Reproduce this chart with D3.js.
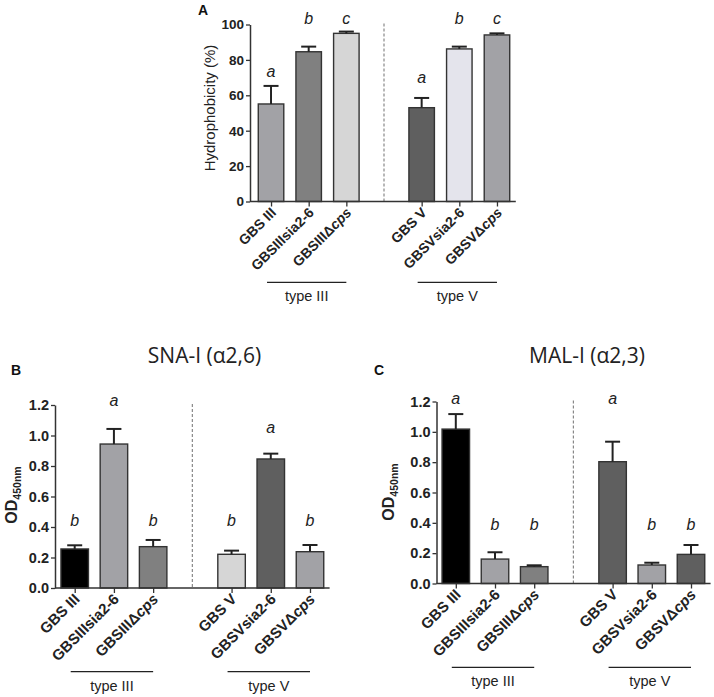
<!DOCTYPE html>
<html>
<head>
<meta charset="utf-8">
<script src="https://cdn.jsdelivr.net/npm/d3@7"></script>
<style>
  html, body { margin: 0; padding: 0; background: #fff; }
  svg { display: block; font-family: "Liberation Sans", Arial, sans-serif; }
</style>
</head>
<body>
<svg id="chart" width="714" height="697"></svg>
<script>
// ---------------- DATA ----------------
const strains = ["GBS III", "GBSIIIsia2-6", "GBSIIIΔcps", "GBS V", "GBSVsia2-6", "GBSVΔcps"];
const groups = ["type III", "type V"];
const groupMembers = [["GBS III", "GBSIIIΔcps"], ["GBS V", "GBSVΔcps"]];

// Panel A: hydrophobicity (%)
const hydroMean = [55.1, 84.6, 95.0, 53.0, 86.2, 94.1];
const hydroErr  = [10.2, 2.9, 1.0, 5.5, 1.3, 0.9];
const hydroLetters = ["a", "b", "c", "a", "b", "c"];
const hydroLetterY = [73.7, 103.7, 103.7, 70.3, 103.7, 103.7];
const hydroTicks = [0, 20, 40, 60, 80, 100];

// Panel B: SNA-I (α2,6)
const snaMean = [0.256, 0.944, 0.271, 0.221, 0.846, 0.238];
const snaErr  = [0.024, 0.099, 0.044, 0.024, 0.035, 0.044];
const snaLetters = ["b", "a", "b", "b", "a", "b"];
const snaLetterY = [0.446, 1.228, 0.446, 0.446, 1.054, 0.446];

// Panel C: MAL-I (α2,3)
const malMean = [1.018, 0.161, 0.111, 0.803, 0.122, 0.192];
const malErr  = [0.099, 0.045, 0.009, 0.132, 0.015, 0.062];
const malLetters = ["a", "b", "b", "a", "b", "b"];
const malLetterY = [1.22, 0.392, 0.392, 1.22, 0.392, 0.392];
const odTicks = [0, 0.2, 0.4, 0.6, 0.8, 1.0, 1.2];

// ---------------- STYLE ----------------
const fillA = ["#a2a2a6", "#808080", "#d6d6d6", "#5f5f5f", "#e4e4ec", "#a2a2a6"];
const fillB = ["#000000", "#a2a2a6", "#808080", "#d6d6d6", "#5f5f5f", "#a2a2a6"];
const fillC = ["#000000", "#a2a2a6", "#808080", "#5f5f5f", "#a2a2a6", "#5f5f5f"];

const svg = d3.select("#chart");
const slots = [strains[0], strains[1], strains[2], "__gap__", strains[3], strains[4], strains[5]];

function drawPanel(cfg) {
  const g = svg.append("g");
  const x = d3.scalePoint().domain(slots).range(cfg.xRange).padding(0.5);
  const y = d3.scaleLinear().domain(cfg.yDomain).range(cfg.yRange);
  const y0 = y(0);

  // dashed separator
  g.append("line")
    .attr("x1", x("__gap__")).attr("x2", x("__gap__"))
    .attr("y1", y(cfg.yDomain[1]) - 1).attr("y2", y0)
    .attr("stroke", "#888").attr("stroke-width", 1.2)
    .attr("stroke-dasharray", "3,2");

  const data = strains.map((s, i) => ({
    s, m: cfg.mean[i], e: cfg.err[i], l: cfg.letters[i], ly: cfg.letterY[i], f: cfg.fill[i]
  }));

  // bars
  g.selectAll("rect.bar").data(data).join("rect")
    .attr("x", d => x(d.s) - cfg.bw / 2)
    .attr("width", cfg.bw)
    .attr("y", d => y(d.m))
    .attr("height", d => y0 - y(d.m))
    .attr("fill", d => d.f)
    .attr("stroke", "#333").attr("stroke-width", 1.4);

  // error bars (upper only)
  g.selectAll("line.err").data(data).join("line")
    .attr("x1", d => x(d.s)).attr("x2", d => x(d.s))
    .attr("y1", d => y(d.m)).attr("y2", d => y(d.m + d.e))
    .attr("stroke", "#222").attr("stroke-width", 2);
  g.selectAll("line.cap").data(data).join("line")
    .attr("x1", d => x(d.s) - 7.5).attr("x2", d => x(d.s) + 7.5)
    .attr("y1", d => y(d.m + d.e)).attr("y2", d => y(d.m + d.e))
    .attr("stroke", "#222").attr("stroke-width", 2);

  // significance letters
  g.selectAll("text.letter").data(data).join("text")
    .attr("x", d => x(d.s)).attr("y", d => y(d.ly))
    .attr("dy", "0.35em")
    .attr("text-anchor", "middle")
    .attr("font-style", "italic")
    .attr("font-size", 16)
    .attr("fill", "#222")
    .text(d => d.l);

  // y axis
  const yAxis = d3.axisLeft(y).tickValues(cfg.ticks).tickFormat(cfg.fmt).tickSize(4).tickSizeOuter(0);
  const ya = g.append("g").attr("transform", `translate(${cfg.axisX},0)`).call(yAxis);
  ya.select(".domain").attr("stroke", "#333").attr("stroke-width", 1.5);
  ya.selectAll(".tick line").attr("stroke", "#333").attr("stroke-width", 1.3);
  ya.selectAll(".tick text").attr("font-size", cfg.tickFont).attr("font-weight", "bold")
    .attr("fill", "#222").attr("font-family", "Liberation Sans, Arial, sans-serif").attr("x", -6);

  // x axis
  const xAxis = d3.axisBottom(x).tickValues(strains).tickFormat("").tickSize(5).tickSizeOuter(0);
  const xa = g.append("g").attr("transform", `translate(0,${y0})`).call(xAxis);
  xa.select(".domain").attr("d", `M${cfg.axisX},0H${cfg.xRange[1]}`)
    .attr("stroke", "#333").attr("stroke-width", 1.5);
  xa.selectAll(".tick line").attr("stroke", "#333").attr("stroke-width", 1.3);

  // rotated category labels
  g.selectAll("text.cat").data(strains).join("text")
    .attr("transform", s => `translate(${x(s) + 6},${y0 + 12}) rotate(-45)`)
    .attr("text-anchor", "end")
    .attr("font-size", cfg.catFont).attr("font-weight", "bold").attr("fill", "#222")
    .each(function (s) {
      const t = d3.select(this);
      const k = s.indexOf("Δ");
      if (k >= 0) {
        t.append("tspan").text(s.slice(0, k + 1));
        t.append("tspan").attr("font-style", "italic").text(s.slice(k + 1));
      } else {
        t.text(s);
      }
    });

  // group brackets
  groups.forEach((gname, i) => {
    const xa0 = x(groupMembers[i][0]) - 4, xa1 = x(groupMembers[i][1]);
    g.append("line").attr("x1", xa0).attr("x2", xa1)
      .attr("y1", cfg.groupY).attr("y2", cfg.groupY)
      .attr("stroke", "#222").attr("stroke-width", 1.2);
    g.append("text").attr("x", (xa0 + xa1) / 2).attr("y", cfg.groupY + 19)
      .attr("text-anchor", "middle").attr("font-size", 14.5).attr("fill", "#222")
      .text(gname);
  });

  // y label
  const yl = g.append("text")
    .attr("transform", `translate(${cfg.ylabX},${cfg.ylabY}) rotate(-90)`)
    .attr("text-anchor", "middle").attr("fill", "#222");
  if (cfg.ylabel === "OD") {
    yl.attr("font-weight", "bold");
    yl.append("tspan").attr("font-size", 16).text("OD");
    yl.append("tspan").attr("font-size", 10.5).attr("dy", 4).text("450nm");
  } else {
    yl.attr("font-size", 15).text(cfg.ylabel);
  }

  // panel letter
  svg.append("text").attr("x", cfg.letterPos[0]).attr("y", cfg.letterPos[1])
    .attr("font-size", 14).attr("font-weight", "bold").attr("fill", "#111")
    .text(cfg.panel);

  if (cfg.title) {
    svg.append("text").attr("x", cfg.title[1]).attr("y", cfg.title[2])
      .attr("text-anchor", "middle").attr("font-family", "Open Sans, sans-serif")
      .attr("font-size", 21).attr("fill", "#222").text(cfg.title[0]);
  }
}

drawPanel({
  panel: "A", letterPos: [198, 15],
  xRange: [252.2, 515.8], axisX: 250, yDomain: [0, 100], yRange: [201.5, 24.5],
  mean: hydroMean, err: hydroErr, letters: hydroLetters, letterY: hydroLetterY,
  fill: fillA, bw: 25.5, ticks: hydroTicks, fmt: d3.format("d"), tickFont: 13.5, catFont: 14,
  groupY: 282.3, ylabel: "Hydrophobicity (%)", ylabX: 215, ylabY: 108
});

drawPanel({
  panel: "B", letterPos: [11, 375], title: ["SNA-I (α2,6)", 204.5, 363],
  xRange: [55.1, 329.6], axisX: 55, yDomain: [0, 1.2], yRange: [588, 405],
  mean: snaMean, err: snaErr, letters: snaLetters, letterY: snaLetterY,
  fill: fillB, bw: 27.5, ticks: odTicks, fmt: d3.format(".1f"), tickFont: 14.5, catFont: 15,
  groupY: 671.7, ylabel: "OD", ylabX: 17, ylabY: 495
});

drawPanel({
  panel: "C", letterPos: [374, 375], title: ["MAL-I (α2,3)", 587, 363],
  xRange: [436.2, 710.6], axisX: 436.5, yDomain: [0, 1.2], yRange: [583.5, 401.5],
  mean: malMean, err: malErr, letters: malLetters, letterY: malLetterY,
  fill: fillC, bw: 27.5, ticks: odTicks, fmt: d3.format(".1f"), tickFont: 14.5, catFont: 15,
  groupY: 667.3, ylabel: "OD", ylabX: 394, ylabY: 492
});
</script>
</body>
</html>
